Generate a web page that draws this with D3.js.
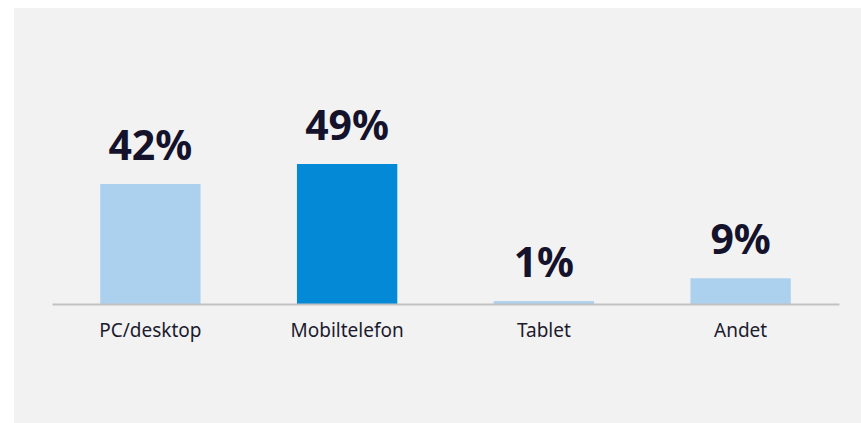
<!DOCTYPE html>
<html>
<head>
<meta charset="utf-8">
<script src="https://cdn.jsdelivr.net/npm/d3@7"></script>
<style>
  html, body { margin: 0; padding: 0; background: #ffffff; }
  #chart { width: 861px; height: 423px; }
</style>
</head>
<body>
<div id="chart"></div>
<script>
var categories = ["PC/desktop", "Mobiltelefon", "Tablet", "Andet"];
var values = [42, 49, 1, 9];
var valueLabels = ["42%", "49%", "1%", "9%"];
var barColors = ["#acd1ef", "#0489d7", "#acd1ef", "#acd1ef"];

var width = 861, height = 423;

var svg = d3.select("#chart").append("svg")
  .attr("width", width)
  .attr("height", height);

// grey panel
svg.append("rect")
  .attr("x", 14)
  .attr("y", 8)
  .attr("width", width - 14)
  .attr("height", height - 8)
  .attr("fill", "#f2f2f2");

var x = d3.scaleBand()
  .domain(categories)
  .range([52, 839])
  .paddingInner(0.49)
  .paddingOuter(0.245);

var y = d3.scaleLinear()
  .domain([0, 49])
  .range([304, 164]);

svg.selectAll(".bar")
  .data(values)
  .enter().append("rect")
  .attr("class", "bar")
  .attr("x", function (d, i) { return x(categories[i]); })
  .attr("width", x.bandwidth())
  .attr("y", function (d) { return y(d); })
  .attr("height", function (d) { return y(0) - y(d); })
  .attr("fill", function (d, i) { return barColors[i]; });

// baseline axis
var xAxis = d3.axisBottom(x).tickSize(0).tickPadding(20);
var ax = svg.append("g")
  .attr("transform", "translate(0," + y(0) + ")")
  .call(xAxis);
ax.select(".domain")
  .attr("stroke", "#c2c2c2")
  .attr("stroke-width", 2);
ax.selectAll("text")
  .attr("fill", "#1c1b2e")
  .style("font-family", "'Noto Sans', sans-serif")
  .style("font-size", "19px");

// value labels
svg.selectAll(".val")
  .data(values)
  .enter().append("text")
  .attr("class", "val")
  .attr("x", function (d, i) { return x(categories[i]) + x.bandwidth() / 2; })
  .attr("y", function (d) { return y(d) - 24; })
  .attr("text-anchor", "middle")
  .attr("fill", "#15132b")
  .style("font-family", "'Noto Sans', sans-serif")
  .style("font-weight", "bold")
  .style("font-size", "41px")
  .text(function (d, i) { return valueLabels[i]; });
</script>
</body>
</html>
